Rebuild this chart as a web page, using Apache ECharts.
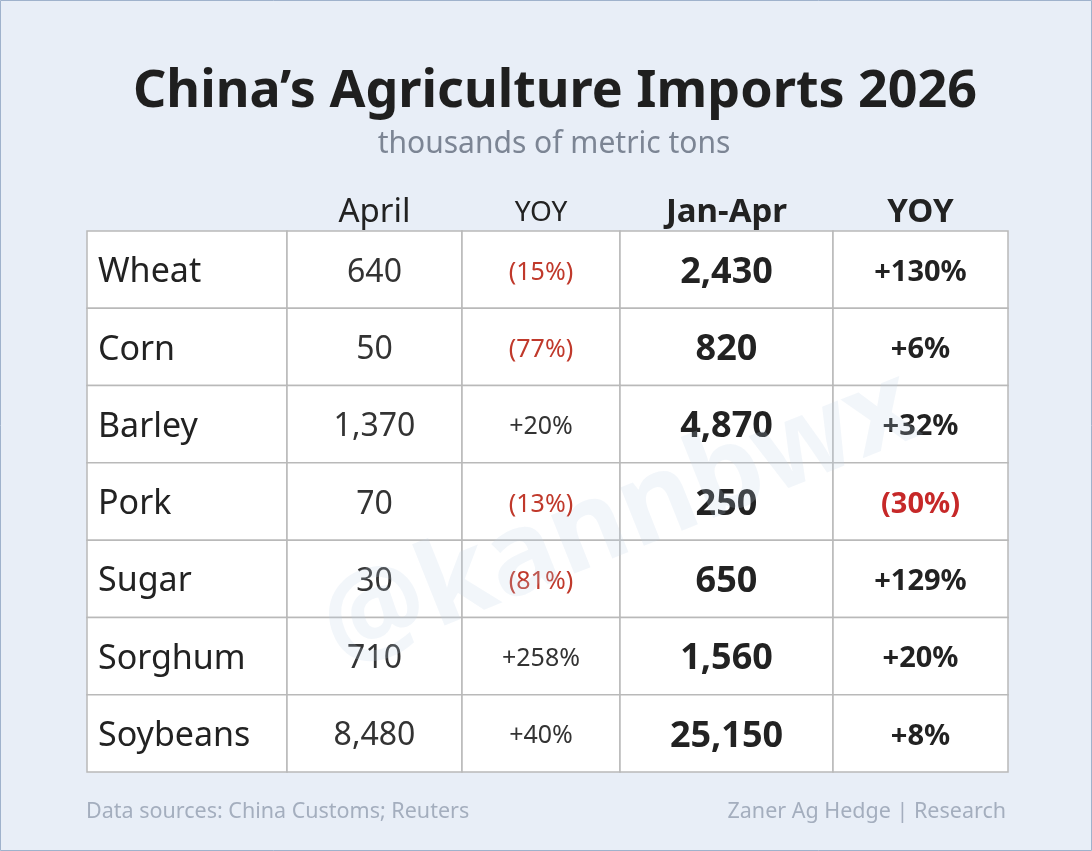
<!DOCTYPE html>
<html><head><meta charset="utf-8">
<script src="https://cdn.jsdelivr.net/npm/echarts@6/dist/echarts.min.js"></script>
<style>html,body{margin:0;padding:0;background:#e8eef7}#c{width:1092px;height:851px}</style>
</head><body><div id="c"></div>
<script>
const commodities = ['Wheat','Corn','Barley','Pork','Sugar','Sorghum','Soybeans'];
const aprilVals = ['640','50','1,370','70','30','710','8,480'];
const aprilYoy = ['(15%)','(77%)','+20%','(13%)','(81%)','+258%','+40%'];
const janAprVals = ['2,430','820','4,870','250','650','1,560','25,150'];
const janAprYoy = ['+130%','+6%','+32%','(30%)','+129%','+20%','+8%'];
const headers = ['', 'April', 'YOY', 'Jan-Apr', 'YOY'];

const colW = [200,175,158,213,175];
const edges = [0]; colW.forEach(w=>edges.push(edges[edges.length-1]+w));
const FONT = '"Noto Sans", "Open Sans", sans-serif';
const cols = [commodities, aprilVals, aprilYoy, janAprVals, janAprYoy];
const data = [];
for (let r=0;r<commodities.length;r++) for (let c=0;c<5;c++) data.push([c,r]);

const chart = echarts.init(document.getElementById('c'));
chart.setOption({
  backgroundColor:'#e8eef7',
  grid:{left:87,top:231,width:921,height:541},
  xAxis:{type:'value',min:0,max:921,show:false},
  yAxis:{type:'value',min:0,max:7,inverse:true,show:false},
  graphic:[
    {type:'rect',shape:{x:0.5,y:0.5,width:1091,height:850},style:{fill:'none',stroke:'#9fb2cc',lineWidth:1}},
    {type:'text',x:555,y:92,style:{text:'China’s Agriculture Imports 2026',font:'bold 52px '+FONT,fill:'#1f1f1f',textAlign:'center',textVerticalAlign:'middle'}},
    {type:'text',x:554,y:144,style:{text:'thousands of metric tons',font:'30px '+FONT,fill:'#7c8594',textAlign:'center',textVerticalAlign:'middle'}},
    {type:'text',x:86,y:812,style:{text:'Data sources: China Customs; Reuters',font:'21.5px '+FONT,fill:'#a4aebe',textAlign:'left',textVerticalAlign:'middle'}},
    {type:'text',x:1006,y:812,style:{text:'Zaner Ag Hedge | Research',font:'21.5px '+FONT,fill:'#a4aebe',textAlign:'right',textVerticalAlign:'middle'}},
    {type:'text',x:620,y:520,rotation:0.38,z:100,style:{text:'@kannbwx',font:'bold 115px '+FONT,fill:'rgba(190,208,228,0.2)',textAlign:'center',textVerticalAlign:'middle'}}
  ].concat(headers.map((h,i)=>({type:'text',x:87+(edges[i]+edges[i+1])/2,y:213,
    style:{text:h,font:(i>=3?'bold 33px ':(i===2?'28px ':'33px '))+FONT,fill:'#222',textAlign:'center',textVerticalAlign:'middle'}}))),
  series:[{
    type:'custom',data:data,
    renderItem:function(params,api){
      const c=api.value(0), r=api.value(1);
      const p0=api.coord([edges[c],r]), p1=api.coord([edges[c+1],r+1]);
      const txt=cols[c][r];
      const neg=txt.startsWith('(');
      let font, fill='#222', x=(p0[0]+p1[0])/2, align='center';
      if(c===0){font='34px '+FONT;x=p0[0]+11;align='left';}
      else if(c===1){font='32px '+FONT;fill='#333';}
      else if(c===2){font='25px '+FONT;fill=neg?'#c0392b':'#333';}
      else if(c===3){font='bold 36px '+FONT;}
      else {font='bold 29px '+FONT;fill=neg?'#c62828':'#222';}
      return {type:'group',children:[
        {type:'rect',shape:{x:p0[0],y:p0[1],width:p1[0]-p0[0],height:p1[1]-p0[1]},style:{fill:'#fff',stroke:'#b9b9b9',lineWidth:1.5}},
        {type:'text',x:x,y:(p0[1]+p1[1])/2+3,style:{text:txt,font:font,fill:fill,textAlign:align,textVerticalAlign:'middle'}}
      ]};
    }
  }]
});
</script></body></html>
